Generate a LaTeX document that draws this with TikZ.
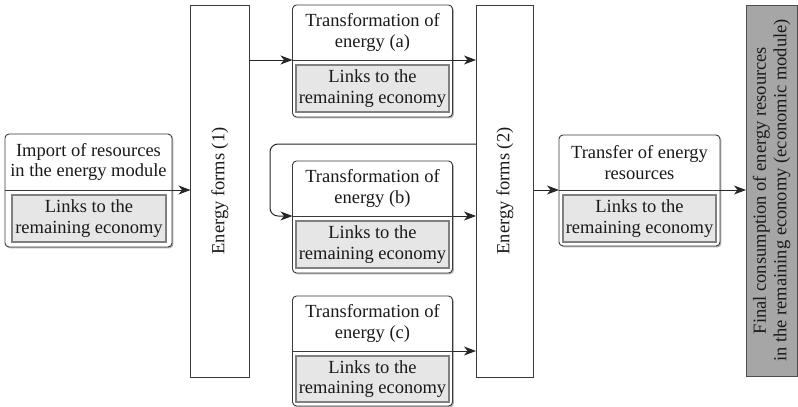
\documentclass[tikz,border=0pt]{standalone}
\usepackage{fontspec}
\setmainfont{Liberation Serif}
\usetikzlibrary{arrows.meta,shadows}
\definecolor{linec}{HTML}{3A3A3A}
\definecolor{grayfill}{HTML}{E6E6E6}
\definecolor{grayline}{HTML}{808080}
\definecolor{finalfill}{HTML}{A6A6A6}
\definecolor{txt}{HTML}{1A1A1A}
\begin{document}
\begin{tikzpicture}[x=1pt,y=-1pt,
  every node/.style={inner sep=0pt, outer sep=0pt, text=txt, font=\fontsize{18.5}{20.5}\selectfont},
  outerbox/.style={draw=linec, line width=0.9pt, fill=white, rounded corners=4pt,
    drop shadow={shadow xshift=1.4pt, shadow yshift=-1.4pt, fill=black, opacity=0.3}},
  toppart/.style={align=center},
  graybox/.style={draw=grayline, line width=1.1pt, fill=grayfill, align=center},
  formsbox/.style={draw=linec, line width=1pt, fill=white},
  finalbox/.style={draw=linec!90, line width=0.9pt, fill=finalfill,
    drop shadow={shadow xshift=1.2pt, shadow yshift=-1.2pt, fill=black, opacity=0.3}},
  arr/.style={draw=black!85, line width=1pt, -{Stealth[length=12pt,width=9pt,inset=3.5pt]}},
  divider/.style={draw=linec, line width=0.9pt}
]
\useasboundingbox (0,0) rectangle (798,407);

% Energy forms columns
\node[formsbox, minimum width=58.5pt, minimum height=372pt] (ef1) at (219.75,191) {};
\node[rotate=90] (ef1t) at (ef1.center) {Energy forms (1)};
\node[formsbox, minimum width=57.5pt, minimum height=372pt] (ef2) at (504.75,191) {};
\node[rotate=90] (ef2t) at (ef2.center) {Energy forms (2)};

% Final consumption
\node[finalbox, minimum width=51pt, minimum height=371pt] (fin) at (771.5,190.5) {};
\node[rotate=90, align=center] (fint) at (fin.center) {Final consumption of energy resources\\in the remaining economy (economic module)};

% Import box
\node[outerbox, minimum width=167pt, minimum height=113pt] (imp) at (88.5,190.5) {};
\node[toppart, minimum width=167pt, minimum height=56pt] (impT) at (88.5,162) {Import of resources\\in the energy module};
\draw[divider] (impT.south west) -- (impT.south east);
\node[graybox, minimum width=154pt, minimum height=47pt] (impL) at (89,218.5) {Links to the\\remaining economy};

% Transformation (a)
\node[outerbox, minimum width=160pt, minimum height=112pt] (ta) at (372.5,61) {};
\node[toppart, minimum width=160pt, minimum height=55pt] (taT) at (372.5,32.5) {Transformation of\\energy (a)};
\draw[divider] (taT.south west) -- (taT.south east);
\node[graybox, minimum width=153pt, minimum height=47pt] (taL) at (372.5,88.5) {Links to the\\remaining economy};

% Transformation (b)
\node[outerbox, minimum width=160pt, minimum height=112pt] (tb) at (372.5,217) {};
\node[toppart, minimum width=160pt, minimum height=55pt] (tbT) at (372.5,188.5) {Transformation of\\energy (b)};
\draw[divider] (tbT.south west) -- (tbT.south east);
\node[graybox, minimum width=153pt, minimum height=47pt] (tbL) at (372.5,244.5) {Links to the\\remaining economy};

% Transformation (c)
\node[outerbox, minimum width=160pt, minimum height=110pt] (tc) at (372.5,351) {};
\node[toppart, minimum width=160pt, minimum height=55pt] (tcT) at (372.5,323.5) {Transformation of\\energy (c)};
\draw[divider] (tcT.south west) -- (tcT.south east);
\node[graybox, minimum width=153pt, minimum height=46pt] (tcL) at (372.5,379) {Links to the\\remaining economy};

% Transfer
\node[outerbox, minimum width=161pt, minimum height=111pt] (tr) at (639.5,190.5) {};
\node[toppart, minimum width=161pt, minimum height=55pt] (trT) at (639.5,162.5) {Transfer of energy\\resources};
\draw[divider] (trT.south west) -- (trT.south east);
\node[graybox, minimum width=153pt, minimum height=47pt] (trL) at (639.5,218.5) {Links to the\\remaining economy};

% Connectors
\draw[arr] (impT.south east) -- (impT.south east -| ef1.west);
\draw[arr] (taT.south west -| ef1.east) -- (taT.south west);
\draw[arr] (taT.south east) -- (taT.south east -| ef2.west);
\draw[arr] (tbT.south east) -- (tbT.south east -| ef2.west);
\draw[arr] (tcT.south east) -- (tcT.south east -| ef2.west);
\draw[arr] (trT.south west -| ef2.east) -- (trT.south west);
\draw[arr] (trT.south east) -- (trT.south east -| fin.west);
\coordinate (loopy) at (0,144);
\coordinate (loopx) at (270,0);
\draw[arr, rounded corners=8pt] (ef2.west |- loopy) -| (loopx |- tbT.south west) -- (tbT.south west);
\end{tikzpicture}
\end{document}
